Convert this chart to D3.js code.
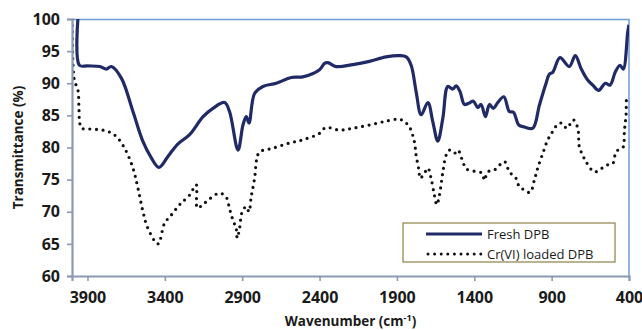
<!DOCTYPE html>
<html>
<head>
<meta charset="utf-8">
<script src="https://cdn.jsdelivr.net/npm/d3@7/dist/d3.min.js"></script>
<style>
  body { margin: 0; background: #fff; }
  text { font-family: "Open Sans", "Liberation Sans", sans-serif; }
</style>
</head>
<body>
<div class="canvas"></div>
<script>
// wavenumber (cm-1) / transmittance (%)
const freshWave = [3962, 3952, 3900, 3820, 3778, 3746, 3681, 3606, 3541, 3490, 3438, 3380, 3318, 3240, 3153, 3089, 3014, 2982, 2927, 2895, 2874, 2856, 2820, 2766, 2680, 2583, 2508, 2400, 2368, 2346, 2292, 2185, 2077, 1970, 1884, 1840, 1808, 1776, 1743, 1700, 1668, 1636, 1603, 1571, 1539, 1517, 1492, 1464, 1435, 1406, 1377, 1356, 1328, 1302, 1277, 1248, 1209, 1173, 1147, 1112, 1076, 1022, 979, 936, 915, 893, 846, 786, 747, 710, 667, 634, 596, 553, 523, 488, 458, 437, 408, 400];
const freshT = [100, 92.8, 92.7, 92.6, 92.2, 92.6, 90.8, 85.6, 80.9, 78.5, 76.9, 78.6, 80.5, 82.0, 84.8, 86.1, 87.0, 85.6, 79.6, 83.5, 84.8, 83.8, 88.4, 89.5, 90.0, 90.9, 91.0, 92.1, 93.1, 93.2, 92.6, 92.9, 93.4, 94.1, 94.3, 94.1, 92.8, 88.7, 85.1, 87.0, 84.0, 81.0, 84.6, 89.5, 89.1, 89.6, 88.7, 86.7, 86.9, 87.2, 86.2, 86.7, 84.8, 86.7, 86.1, 87.0, 87.9, 85.6, 85.5, 83.5, 83.2, 83.0, 86.6, 90.0, 91.4, 91.7, 94.0, 92.6, 94.3, 92.3, 90.5, 89.7, 88.9, 90.0, 89.7, 91.8, 92.8, 92.2, 98.0, 99.1];

const loadedWave = [3998, 3985, 3962, 3955, 3950, 3938, 3896, 3800, 3757, 3713, 3660, 3606, 3573, 3541, 3509, 3444, 3402, 3358, 3305, 3283, 3240, 3197, 3190, 3155, 3111, 3047, 3004, 2982, 2960, 2939, 2932, 2917, 2900, 2874, 2856, 2842, 2820, 2805, 2788, 2701, 2594, 2508, 2400, 2361, 2270, 2185, 2077, 1970, 1884, 1851, 1819, 1787, 1776, 1758, 1750, 1722, 1700, 1679, 1658, 1642, 1625, 1603, 1582, 1561, 1528, 1506, 1474, 1453, 1399, 1349, 1335, 1313, 1270, 1205, 1173, 1130, 1109, 1076, 1039, 1012, 990, 957, 925, 893, 861, 833, 802, 760, 731, 721, 699, 678, 624, 581, 538, 505, 484, 452, 437, 430, 419, 413, 406];
const loadedT = [100, 90.5, 89.0, 86.0, 83.8, 83.0, 82.9, 82.7, 82.4, 81.7, 79.9, 76.8, 73.6, 70.0, 67.4, 65.0, 68.2, 69.5, 71.1, 71.6, 72.6, 74.2, 70.6, 71.1, 72.0, 72.9, 72.3, 70.5, 68.7, 67.4, 65.9, 67.4, 70.0, 70.8, 70.0, 72.3, 75.2, 78.3, 79.3, 79.9, 80.7, 81.2, 82.2, 83.1, 82.7, 83.0, 83.5, 84.1, 84.4, 84.0, 83.2, 80.9, 78.8, 76.5, 75.2, 76.0, 76.8, 75.2, 72.6, 71.1, 72.6, 76.2, 78.8, 79.6, 79.1, 79.6, 77.8, 76.7, 76.3, 76.0, 74.9, 76.2, 76.5, 77.8, 76.2, 75.2, 73.9, 73.4, 73.0, 74.9, 76.8, 79.1, 81.2, 82.5, 83.6, 83.8, 83.0, 84.3, 83.0, 80.1, 78.8, 77.8, 76.2, 76.7, 77.3, 77.5, 79.3, 79.9, 80.1, 82.5, 85.1, 87.9, 88.0];

const xTicks = [3900, 3400, 2900, 2400, 1900, 1400, 900, 400];
const yTicks = [60, 65, 70, 75, 80, 85, 90, 95, 100];
const seriesNames = ['Fresh DPB', 'Cr(VI) loaded DPB'];

const margin = { top: 19, right: 13, bottom: 54, left: 72 };
const width = 642, height = 330;
const graphWidth = width - margin.left - margin.right;
const graphHeight = height - margin.top - margin.bottom;

const svg = d3.select('.canvas')
  .append('svg')
  .attr('width', width)
  .attr('height', height);

const graph = svg.append('g')
  .attr('transform', `translate(${margin.left}, ${margin.top})`);

const x = d3.scaleLinear().domain([4000, 400]).range([0, graphWidth]);
const y = d3.scaleLinear().domain([60, 100]).range([graphHeight, 0]);

// clip so the curves stop at the frame
graph.append('clipPath').attr('id', 'plot-clip')
  .append('rect').attr('width', graphWidth).attr('height', graphHeight);

// top & right frame (light blue)
graph.append('path')
  .attr('d', `M0,0.5H${graphWidth}V${graphHeight}`)
  .attr('fill', 'none')
  .attr('stroke', '#6f9ad6')
  .attr('stroke-width', 1.5);

const line = d3.line()
  .x(d => x(d[0]))
  .y(d => y(d[1]))
  .curve(d3.curveCatmullRom.alpha(0.5));

const fresh = freshWave.map((w, i) => [w, freshT[i]]);
const loaded = loadedWave.map((w, i) => [w, loadedT[i]]);

const lines = graph.append('g').attr('clip-path', 'url(#plot-clip)');

lines.append('path')
  .datum(loaded)
  .attr('d', line)
  .attr('fill', 'none')
  .attr('stroke', '#111')
  .attr('stroke-width', 3.2)
  .attr('stroke-linecap', 'round')
  .attr('stroke-dasharray', '0 6.6');

lines.append('path')
  .datum(fresh)
  .attr('d', line)
  .attr('fill', 'none')
  .attr('stroke', '#1f2a66')
  .attr('stroke-width', 3.2)
  .attr('stroke-linejoin', 'round');

// axes
const xAxisGroup = graph.append('g')
  .attr('transform', `translate(0, ${graphHeight})`)
  .call(d3.axisBottom(x).tickValues(xTicks).tickSize(5).tickPadding(9).tickFormat(d3.format('d')));

const yAxisGroup = graph.append('g')
  .call(d3.axisLeft(y).tickValues(yTicks).tickSize(5).tickPadding(7));

[xAxisGroup, yAxisGroup].forEach(g => {
  g.select('.domain').attr('stroke', '#8a9ab3').attr('stroke-width', 2.2);
  g.selectAll('.tick line').attr('stroke', '#8a9ab3').attr('stroke-width', 1.6);
  g.selectAll('.tick text')
    .attr('fill', '#1a1a1a')
    .attr('font-size', 16)
    .attr('font-weight', 'bold')
    .style('font-family', '"Open Sans", sans-serif');
});
xAxisGroup.selectAll('.tick text').attr('dy', '0.8em');

// axis titles
svg.append('text')
  .attr('x', margin.left + graphWidth / 2)
  .attr('y', 326)
  .attr('text-anchor', 'middle')
  .attr('font-size', 13.5)
  .attr('font-weight', 'bold')
  .attr('fill', '#1a1a1a')
  .html('Wavenumber (cm<tspan dy="-5" font-size="9">-1</tspan><tspan dy="5">)</tspan>');

svg.append('text')
  .attr('transform', `translate(23, ${margin.top + graphHeight / 2}) rotate(-90)`)
  .attr('text-anchor', 'middle')
  .attr('font-size', 13.5)
  .attr('font-weight', 'bold')
  .attr('fill', '#1a1a1a')
  .text('Transmittance (%)');

// legend
const legend = svg.append('g').attr('transform', 'translate(403, 223)');
legend.append('rect')
  .attr('width', 212).attr('height', 39)
  .attr('fill', '#fff')
  .attr('stroke', '#978a55')
  .attr('stroke-width', 1.3);

legend.append('line')
  .attr('x1', 23).attr('x2', 79).attr('y1', 11).attr('y2', 11)
  .attr('stroke', '#1f2a66').attr('stroke-width', 3.2);
legend.append('line')
  .attr('x1', 25).attr('x2', 79).attr('y1', 31).attr('y2', 31)
  .attr('stroke', '#111').attr('stroke-width', 3)
  .attr('stroke-linecap', 'round')
  .attr('stroke-dasharray', '0 6.6');

legend.selectAll('text.item')
  .data(seriesNames)
  .enter()
  .append('text')
  .attr('class', 'item')
  .attr('x', 84)
  .attr('y', (d, i) => 16 + i * 20)
  .attr('font-size', 13)
  .attr('fill', '#1a1a1a')
  .text(d => d);
</script>
</body>
</html>
